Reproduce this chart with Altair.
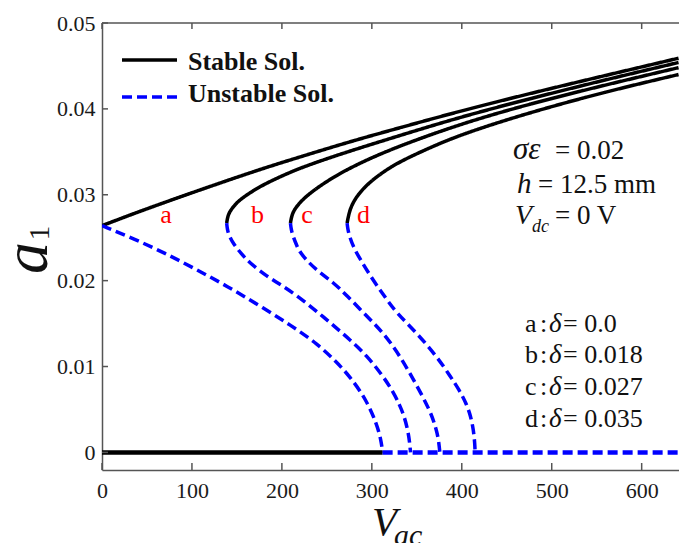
import altair as alt
import pandas as pd

# ---------------- data ----------------
# curve a (delta = 0.0)
va_stable = [0, 35, 72, 110, 146, 183, 220, 276, 331, 400, 476, 560, 641]
aa_stable = [0.0264, 0.0278, 0.0292, 0.0306, 0.0319, 0.0332, 0.0344, 0.0362, 0.0378, 0.0398, 0.0418, 0.0439, 0.0459]
va_unstable = [0, 35, 70, 105, 140, 175, 210, 240, 260, 276, 294, 305, 310, 312]
aa_unstable = [0.0264, 0.0249, 0.0232, 0.0213, 0.0193, 0.0171, 0.0148, 0.0126, 0.0106, 0.0088, 0.0061, 0.0034, 0.0016, 0.0]

# curve b (delta = 0.018)
vb_stable = [138.6, 140, 143, 149, 157, 167, 180, 198, 220, 250, 276, 331, 400, 476, 560, 641]
ab_stable = [0.0267, 0.0276, 0.0282, 0.0290, 0.0297, 0.0304, 0.0312, 0.0321, 0.0331, 0.0342, 0.0351, 0.0369, 0.0391, 0.0412, 0.0434, 0.0454]
vb_unstable = [138.6, 139.3, 141, 146, 155, 164, 183, 201, 220, 239, 257, 276, 295, 313, 324, 331, 336, 340, 342, 343]
ab_unstable = [0.0267, 0.0260, 0.0253, 0.0243, 0.0231, 0.0221, 0.0205, 0.0194, 0.0180, 0.0164, 0.0148, 0.0131, 0.0112, 0.0088, 0.0070, 0.0055, 0.0042, 0.0026, 0.0012, 0.0]

# curve c (delta = 0.027)
vc_stable = [209.5, 211, 214, 220, 228, 238, 252, 270, 295, 331, 400, 476, 560, 641]
ac_stable = [0.0267, 0.0276, 0.0283, 0.0291, 0.0299, 0.0307, 0.0317, 0.0328, 0.0341, 0.0357, 0.0383, 0.0406, 0.0428, 0.0448]
vc_unstable = [209.5, 210.3, 212, 216, 220, 229, 239, 257, 272, 294, 313, 331, 350, 364, 370, 374, 375.6]
ac_unstable = [0.0267, 0.0260, 0.0253, 0.0242, 0.0233, 0.0222, 0.0212, 0.0198, 0.0183, 0.0159, 0.0139, 0.0113, 0.0078, 0.0050, 0.0033, 0.0017, 0.0]

# curve d (delta = 0.035)
vd_stable = [272.5, 275, 280, 287, 296, 308, 322, 340, 365, 401, 476, 560, 641]
ad_stable = [0.0267, 0.0281, 0.0293, 0.0303, 0.0313, 0.0323, 0.0333, 0.0343, 0.0355, 0.0371, 0.0396, 0.0420, 0.0440]
vd_unstable = [272.5, 273.3, 275, 280, 287, 301, 316, 327, 350, 372, 387, 397, 405, 410, 413, 414.5, 414.8]
ad_unstable = [0.0267, 0.0260, 0.0252, 0.0238, 0.0225, 0.0201, 0.0179, 0.0163, 0.0139, 0.0112, 0.0089, 0.0073, 0.0057, 0.0042, 0.0026, 0.0010, 0.0]

# trivial solution a1 = 0
v_zero_stable = [0, 312]
v_zero_unstable = [312, 641.5]

x_ticks = [0, 100, 200, 300, 400, 500, 600]
y_ticks = [0, 0.01, 0.02, 0.03, 0.04, 0.05]
legend_labels = ["Stable Sol.", "Unstable Sol."]
curve_labels = ["a", "b", "c", "d"]
delta_labels = ["a", "b", "c", "d"]
delta_values = ["= 0.0", "= 0.018", "= 0.027", "= 0.035"]

# ---------------- layout ----------------
W, H = 577, 447
XMAX = 641.5
YMIN, YMAX = -0.00205, 0.05
SERIF = "Liberation Serif"
AXC = "#555555"
BLUE = "#0000ff"

rows = []
def add(curve, kind, vs, as_):
    for v, a in zip(vs, as_):
        rows.append({"V": v, "A": a, "curve": curve, "kind": kind, "series": f"{curve}-{kind}"})

add("a", "stable", va_stable, aa_stable)
add("a", "unstable", va_unstable, aa_unstable)
add("b", "stable", vb_stable, ab_stable)
add("b", "unstable", vb_unstable, ab_unstable)
add("c", "stable", vc_stable, ac_stable)
add("c", "unstable", vc_unstable, ac_unstable)
add("d", "stable", vd_stable, ad_stable)
add("d", "unstable", vd_unstable, ad_unstable)
df = pd.DataFrame(rows)

zrows = []
for v in v_zero_stable:
    zrows.append({"V": v, "A": 0.0, "kind": "stable"})
for v in v_zero_unstable:
    zrows.append({"V": v, "A": 0.0, "kind": "unstable"})
dz = pd.DataFrame(zrows)

xs = alt.Scale(domain=[0, XMAX], nice=False, zero=False)
ys = alt.Scale(domain=[YMIN, YMAX], nice=False, zero=False)
cscale = alt.Scale(domain=["stable", "unstable"], range=["#000000", BLUE])
dscale = alt.Scale(domain=["stable", "unstable"], range=[[1, 0], [10, 5]])

x_axis = alt.Axis(values=x_ticks, format="d", ticks=False, grid=False, title=None,
                  labelFont=SERIF, labelFontSize=22, labelColor="#1a1a1a", labelPadding=10,
                  labelFlush=False, domainColor=AXC, domainWidth=1.5)
y_axis = alt.Axis(values=y_ticks, ticks=False, grid=False, title=None,
                  labelExpr="datum.value == 0 ? '0' : format(datum.value, '.2f')",
                  labelFont=SERIF, labelFontSize=22, labelColor="#1a1a1a", labelPadding=7,
                  domainColor=AXC, domainWidth=1.5)

X = lambda: alt.X("V:Q", scale=xs, axis=x_axis)
Y = lambda: alt.Y("A:Q", scale=ys, axis=y_axis)

curves = alt.Chart(df).mark_line(strokeWidth=3.5, interpolate="basis", clip=True).encode(
    x=X(), y=Y(),
    color=alt.Color("kind:N", scale=cscale, legend=None),
    strokeDash=alt.StrokeDash("kind:N", scale=dscale, legend=None),
    detail="series:N",
)

zero = alt.Chart(dz).mark_line(strokeWidth=4.5, clip=True).encode(
    x=X(), y=Y(),
    color=alt.Color("kind:N", scale=cscale, legend=None),
    strokeDash=alt.StrokeDash("kind:N", scale=dscale, legend=None),
    detail="kind:N",
)

# inward ticks and top frame
xt_df = pd.DataFrame({"V": x_ticks})
yt_df = pd.DataFrame({"A": y_ticks})
tick_bottom = alt.Chart(xt_df).mark_rule(color=AXC, strokeWidth=1.5).encode(
    x=X(), y=alt.value(H), y2=alt.value(H - 7))
tick_top = alt.Chart(xt_df).mark_rule(color=AXC, strokeWidth=1.5).encode(
    x=X(), y=alt.value(0), y2=alt.value(6))
tick_left = alt.Chart(yt_df).mark_rule(color=AXC, strokeWidth=1.5).encode(
    y=Y(), x=alt.value(0), x2=alt.value(6))
one = pd.DataFrame({"k": [0]})
top_frame = alt.Chart(one).mark_rule(color=AXC, strokeWidth=1.5).encode(
    x=alt.value(0), x2=alt.value(W), y=alt.value(0))


def txt(text, x, y, size, color="#111111", style="normal", weight="normal",
        align="left", baseline="alphabetic", angle=0):
    kw = dict(font=SERIF, fontSize=size, color=color, fontStyle=style,
              fontWeight=weight, align=align, baseline=baseline)
    if angle:
        kw["angle"] = angle
    return alt.Chart(pd.DataFrame({"t": [text]})).mark_text(**kw).encode(
        x=alt.value(x), y=alt.value(y), text="t:N")


layers = [curves, zero, tick_bottom, tick_top, tick_left, top_frame]

# legend (drawn inside the plot, top-left)
layers.append(alt.Chart(one).mark_rule(color="#000000", strokeWidth=3.5).encode(
    x=alt.value(20), x2=alt.value(75), y=alt.value(37)))
layers.append(alt.Chart(one).mark_rule(color=BLUE, strokeWidth=3.5, strokeDash=[10, 5]).encode(
    x=alt.value(20), x2=alt.value(75), y=alt.value(74)))
layers.append(txt(legend_labels[0], 86, 38.5, 26, color="#111111", weight="bold", baseline="middle"))
layers.append(txt(legend_labels[1], 86, 70.5, 26, color="#111111", weight="bold", baseline="middle"))

# red curve labels
for lab, xx in zip(curve_labels, [64, 155.5, 205, 261.5]):
    layers.append(txt(lab, xx, 199.5, 26, color="#ff0000", align="center"))

# parameter box
layers.append(txt("σε", 411, 136.3, 31, style="italic"))
layers.append(txt("= 0.02", 453, 136.3, 27))
layers.append(txt("h", 415, 170.3, 29, style="italic"))
layers.append(txt("= 12.5 mm", 436, 170.3, 27))
layers.append(txt("V", 413, 201, 28, style="italic"))
layers.append(txt("dc", 430, 209, 18, style="italic"))
layers.append(txt("= 0 V", 453, 201, 27))

# delta box
for i, (lab, val) in enumerate(zip(delta_labels, delta_values)):
    yy = 308.7 + i * 31.7
    layers.append(txt(lab, 423, yy, 26))
    layers.append(txt(":", 438, yy, 26))
    layers.append(txt("δ", 447, yy, 27, style="italic"))
    layers.append(txt(val, 461, yy, 26))

# axis titles
layers.append(txt("a", -55, 235, 64, color="#111111", style="italic", align="center", angle=270))
layers.append(txt("1", -53, 210, 29, color="#111111", align="center", angle=270))
layers.append(txt("V", 270, 512, 41, color="#111111", style="italic"))
layers.append(txt("ac", 292, 522, 30, color="#111111", style="italic"))

chart = alt.layer(*layers).properties(
    width=W, height=H,
    autosize=alt.AutoSizeParams(type="none"),
    padding={"left": 102, "top": 23, "right": 0, "bottom": 73},
).configure_view(stroke=None)

chart.save("out.html", embed_options={"renderer": "svg", "actions": False})
